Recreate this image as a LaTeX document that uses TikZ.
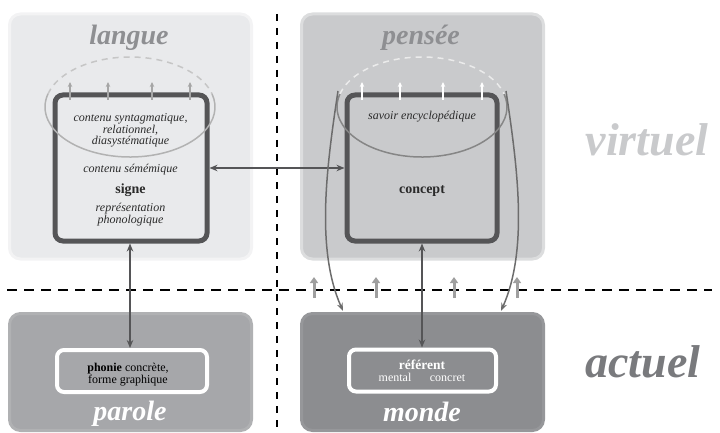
\documentclass[tikz,border=0pt]{standalone}
\usepackage{fontspec}
\setmainfont{Liberation Serif}
\usetikzlibrary{arrows.meta}
\definecolor{langueFill}{HTML}{E9EAEC}
\definecolor{langueRim}{HTML}{F3F3F4}
\definecolor{penseeFill}{HTML}{C9CACC}
\definecolor{penseeRim}{HTML}{DCDDDE}
\definecolor{paroleFill}{HTML}{A6A7AA}
\definecolor{paroleRim}{HTML}{B0B1B3}
\definecolor{mondeFill}{HTML}{8C8D90}
\definecolor{mondeRim}{HTML}{96979A}
\definecolor{coreGray}{HTML}{555557}
\definecolor{titleGray}{HTML}{8E8F92}
\definecolor{virtGray}{HTML}{C9CACC}
\definecolor{actGray}{HTML}{797A7D}
\definecolor{txtDark}{HTML}{2A2A2A}
\begin{document}
\begin{tikzpicture}[x=1pt,y=-1pt,
  region/.style={rounded corners=11pt, line width=3pt, inner sep=0pt, minimum width=242pt, minimum height=245pt},
  core/.style={draw=coreGray, line width=5pt, rounded corners=8pt, inner sep=0pt},
  realbox/.style={draw=white, line width=4pt, rounded corners=7pt, inner sep=0pt},
  bigtitle/.style={font=\fontsize{28}{30}\selectfont\bfseries\itshape, inner sep=0pt, anchor=base},
  hugetitle/.style={font=\fontsize{46}{48}\selectfont\bfseries\itshape, inner sep=0pt, anchor=base},
  smallit/.style={font=\fontsize{12}{10.8}\selectfont\itshape, text=txtDark, align=center, inner sep=0pt},
  smallrm/.style={font=\fontsize{12}{10.2}\selectfont, align=center, inner sep=0pt},
  boldlbl/.style={font=\fontsize{14}{15}\selectfont\bfseries, text=txtDark, inner sep=0pt, anchor=base},
  link/.style={draw=coreGray, line width=2pt, {Stealth[length=8pt,width=6.5pt]}-{Stealth[length=8pt,width=6.5pt]}},
  tinyarrow/.style={line width=1.3pt, -{Stealth[length=5pt,width=4.5pt]}},
  uparrow/.style={draw=gray!75, line width=3pt, -{Triangle[length=6pt,width=8pt]}},
  curvearrow/.style={draw=gray!85!black, line width=1.5pt, -{Stealth[length=8pt,width=6pt]}},
  hdash/.style={line width=1.6pt, dash pattern=on 10pt off 7pt},
  vdash/.style={line width=1.8pt, dash pattern=on 7pt off 7pt}
]
\useasboundingbox (0,0) rectangle (720,433);
% dashed separators
\coordinate (hl) at (7,290);
\coordinate (hr) at (712,290);
\coordinate (vt) at (277,14);
\coordinate (vb) at (277,433);
\draw[hdash] (hl) -- (hr);
\draw[vdash] (vt) -- (vb);
% regions
\node[region, fill=langueFill, draw=langueRim] (langue) at (130.5,136.5) {};
\node[region, fill=penseeFill, draw=penseeRim] (pensee) at (422.5,136.5) {};
\node[region, minimum height=117pt, fill=paroleFill, draw=paroleRim] (parole) at (130.5,372) {};
\node[region, minimum height=117pt, fill=mondeFill, draw=mondeRim] (monde) at (422.5,372) {};
% titles
\node[bigtitle, text=titleGray] (tlangue) at (129,45) {langue};
\node[bigtitle, text=titleGray] (tpensee) at (421,45) {pensée};
\node[bigtitle, text=white] (tparole) at (130,420) {parole};
\node[bigtitle, text=white] (tmonde) at (422,421.5) {monde};
\node[hugetitle, text=virtGray] (tvirtuel) at (647,155) {virtuel};
\node[hugetitle, text=actGray] (tactuel) at (643,377) {actuel};
% inner boxes
\node[core, minimum width=152pt, minimum height=146pt] (signe) at (131,168) {};
\node[core, minimum width=150pt, minimum height=146pt] (concept) at (422,168) {};
\node[realbox, fill=paroleFill, minimum width=150pt, minimum height=42pt] (phonie) at (132,371) {};
\node[realbox, fill=mondeFill, minimum width=147pt, minimum height=42pt] (referent) at (422.5,370.5) {};
% ellipses
\draw[draw=gray!45, line width=1.5pt, dash pattern=on 6pt off 5pt] ([shift={(-165:85 and 50)}]130,107) arc[start angle=-165, end angle=-15, x radius=85, y radius=50];
\draw[draw=gray!60, line width=1.5pt] ([shift={(-15:85 and 50)}]130,107) arc[start angle=-15, end angle=195, x radius=85, y radius=50];
\draw[draw=white!92!black, line width=1.5pt, dash pattern=on 6pt off 5pt] ([shift={(-165:85 and 50)}]422,107) arc[start angle=-165, end angle=-15, x radius=85, y radius=50];
\draw[draw=gray!95, line width=1.5pt] ([shift={(-15:85 and 50)}]422,107) arc[start angle=-15, end angle=195, x radius=85, y radius=50];
% tiny arrows
\foreach \x [count=\i] in {70,108,152,190} {
  \coordinate (la\i) at (\x,100);
  \coordinate (lb\i) at (\x,82);
  \draw[tinyarrow, draw=gray!70, fill=gray!70] (la\i) -- (lb\i);
}
\foreach \x [count=\i] in {362,400,443,482} {
  \coordinate (pa\i) at (\x,100);
  \coordinate (pb\i) at (\x,82);
  \draw[tinyarrow, draw=white, fill=white] (pa\i) -- (pb\i);
}
% texts in signe
\node[smallit] (syn) at (130.5,130.5) {contenu syntagmatique,\\relationnel,\\diasystématique};
\node[smallit, anchor=base] (sem) at (130.5,172.7) {contenu sémémique};
\node[boldlbl] (lsigne) at (130.5,193.3) {signe};
\node[smallit] (repr) at (130.5,215) {représentation\\phonologique};
\node[smallit, anchor=base] (savoir) at (422,120) {savoir encyclopédique};
\node[boldlbl] (lconcept) at (422,193.3) {concept};
\node[smallrm, text=black] (lphonie) at (128,375) {\textbf{phonie} concrète,\\forme graphique};
\node[font=\fontsize{13.5}{14}\selectfont\bfseries, text=white, inner sep=0pt, anchor=base] (lref) at (422,369.3) {référent};
\node[font=\fontsize{12}{13}\selectfont, text=white, inner sep=0pt, anchor=base] (lmental) at (395,381) {mental};
\node[font=\fontsize{12}{13}\selectfont, text=white, inner sep=0pt, anchor=base] (lconcret) at (447.5,381) {concret};
% links
\draw[link] (signe.east |- 0,168) -- (concept.west |- 0,168);
\draw[link] (signe.south -| 130,0) -- (phonie.north -| 130,0);
\draw[link] (concept.south) -- (referent.north -| 422,0);
% curved arrows
\coordinate (cls) at (338,91);
\coordinate (cle) at (343,311);
\coordinate (crs) at (506,91);
\coordinate (cre) at (501,311);
\draw[curvearrow] (cls) .. controls (326,170) and (316,250) .. (cle);
\draw[curvearrow] (crs) .. controls (518,170) and (528,250) .. (cre);
% up arrows across the boundary
\foreach \x [count=\i] in {314,376,454,517} {
  \coordinate (ua\i) at (\x,298);
  \coordinate (ub\i) at (\x,277);
  \draw[uparrow, fill=gray!75] (ua\i) -- (ub\i);
}
\end{tikzpicture}
\end{document}
